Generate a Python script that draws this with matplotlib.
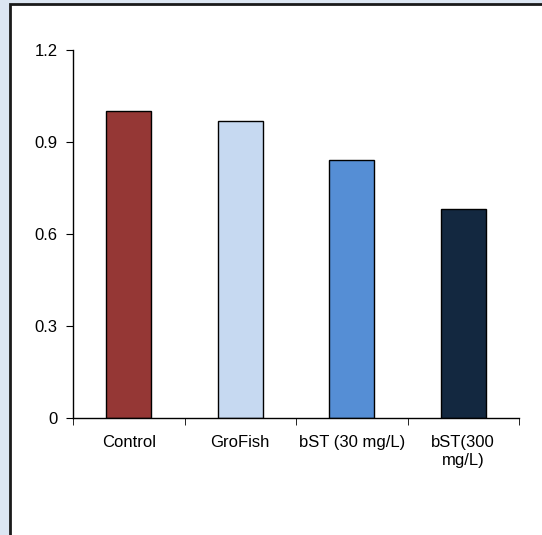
import numpy as np
import matplotlib.pyplot as plt
from matplotlib.patches import Rectangle

plt.rcParams['font.family'] = ['Liberation Sans', 'DejaVu Sans']

categories = ["Control", "GroFish", "bST (30 mg/L)", "bST(300\nmg/L)"]
values = [1.0, 0.97, 0.84, 0.68]
colors = ["#953735", "#c6d9f1", "#558ed5", "#132840"]
yticks = [0, 0.3, 0.6, 0.9, 1.2]

W, H = 542, 535
fig = plt.figure(figsize=(W / 100, H / 100), dpi=100)
fig.patch.set_facecolor("#dce6f2")

# white chart panel with dark frame (cut off at right/bottom)
panel = Rectangle((10 / W, -0.05), 1.1, 1 - 4 / H + 0.05, transform=fig.transFigure,
                  facecolor="white", edgecolor="#1a1a1a", linewidth=2, zorder=-1)
fig.patches.append(panel)

ax = fig.add_axes([73 / W, 1 - 418 / H, (519 - 73) / W, (418 - 50) / H])
ax.set_facecolor("none")

x = np.arange(len(categories))
ax.bar(x, values, width=0.4, color=colors, edgecolor="black", linewidth=1)

ax.set_xlim(-0.5, len(categories) - 0.5)
ax.set_ylim(0, 1.2)
ax.set_yticks(yticks)
ax.set_yticklabels(["0", "0.3", "0.6", "0.9", "1.2"], fontsize=12)

ax.set_xticks(x)
ax.set_xticklabels(categories, fontsize=12, linespacing=1.25)
ax.tick_params(axis="x", which="major", length=0, pad=12)
ax.set_xticks(np.arange(-0.5, len(categories)), minor=True)
ax.tick_params(axis="x", which="minor", length=5, direction="out")
ax.tick_params(axis="y", length=5, direction="out", pad=6)

for s in ["top", "right"]:
    ax.spines[s].set_visible(False)
for s in ["left", "bottom"]:
    ax.spines[s].set_linewidth(1)

fig.savefig("out.png", dpi=100)
